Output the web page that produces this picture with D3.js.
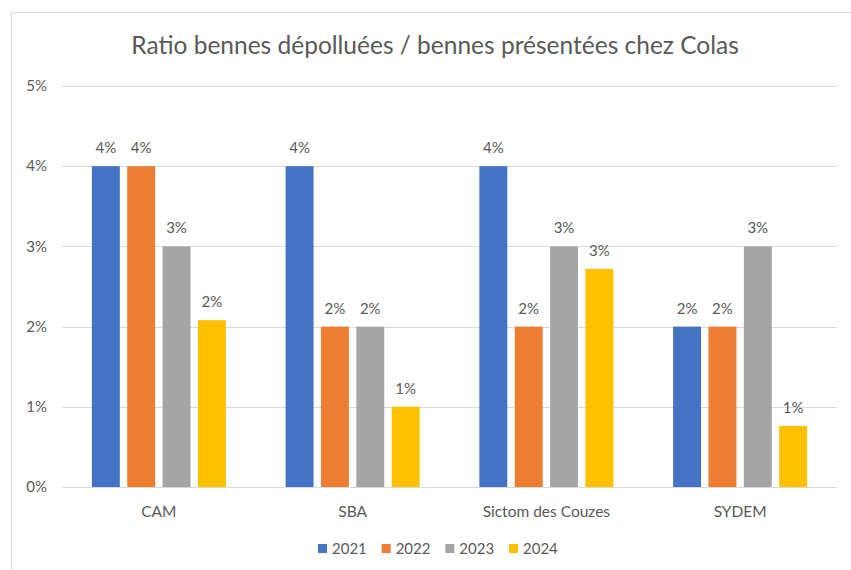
<!DOCTYPE html>
<html>
<head>
<meta charset="utf-8">
<script src="https://cdn.jsdelivr.net/npm/d3@7"></script>
<style>
  html, body { margin: 0; padding: 0; background: #fff; }
  svg { display: block; font-family: "Lato", "Open Sans", sans-serif; }
</style>
</head>
<body>
<svg id="chart" width="851" height="570"></svg>
<script>
const categories = ["CAM", "SBA", "Sictom des Couzes", "SYDEM"];
const seriesNames = ["2021", "2022", "2023", "2024"];
const values2021 = [0.04, 0.04, 0.04, 0.02];
const values2022 = [0.04, 0.02, 0.02, 0.02];
const values2023 = [0.03, 0.02, 0.03, 0.03];
const values2024 = [0.0208, 0.01, 0.0272, 0.0076];
const colors = ["#4472C4", "#ED7D31", "#A5A5A5", "#FFC000"];
const yTicks = [0, 0.01, 0.02, 0.03, 0.04, 0.05];
const chartTitle = "Ratio bennes dépolluées / bennes présentées chez Colas";

(function () {
const seriesValues = [values2021, values2022, values2023, values2024];
const svg = d3.select("#chart");
const textColor = "#595959";

// chart border
svg.append("rect").attr("x", 11.5).attr("y", 12.5).attr("width", 860).attr("height", 580)
  .attr("fill", "#fff").attr("stroke", "#D9D9D9").attr("stroke-width", 1);

const plotLeft = 62, plotRight = 837, plotTop = 86, plotBottom = 487;

const y = d3.scaleLinear().domain([0, 0.05]).range([plotBottom, plotTop]);
const x0 = d3.scaleBand().domain(categories).range([plotLeft, plotRight]).padding(0);
const groupW = 134;
const x1 = d3.scaleBand().domain(seriesNames).range([-groupW / 2, groupW / 2]).paddingInner(0.21).paddingOuter(0);

// gridlines
svg.append("g").selectAll("line").data(yTicks).join("line")
  .attr("x1", plotLeft).attr("x2", plotRight)
  .attr("y1", d => Math.round(y(d)) + 0.5).attr("y2", d => Math.round(y(d)) + 0.5)
  .attr("stroke", "#D9D9D9").attr("stroke-width", 1);

// y tick labels
svg.append("g").selectAll("text").data(yTicks).join("text")
  .attr("x", 47).attr("y", d => y(d)).attr("dy", "0.35em")
  .attr("text-anchor", "end").attr("fill", textColor).attr("font-size", 15)
  .text(d => d3.format(".0%")(d));

// bars
const data = [];
categories.forEach((c, i) => seriesNames.forEach((s, j) => data.push({ c, s, j, v: seriesValues[j][i] })));

const gBars = svg.append("g");
gBars.selectAll("rect").data(data).join("rect")
  .attr("x", d => x0(d.c) + x0.bandwidth() / 2 + x1(d.s))
  .attr("width", x1.bandwidth())
  .attr("y", d => y(d.v))
  .attr("height", d => y(0) - y(d.v))
  .attr("fill", d => colors[d.j]);

// data labels
gBars.selectAll("text").data(data).join("text")
  .attr("x", d => x0(d.c) + x0.bandwidth() / 2 + x1(d.s) + x1.bandwidth() / 2)
  .attr("y", d => y(d.v) - 13)
  .attr("text-anchor", "middle").attr("fill", textColor).attr("font-size", 15)
  .text(d => d3.format(".0%")(d.v));

// category labels
svg.append("g").selectAll("text").data(categories).join("text")
  .attr("x", d => x0(d) + x0.bandwidth() / 2).attr("y", 517)
  .attr("text-anchor", "middle").attr("fill", textColor).attr("font-size", 15.5)
  .text(d => d);

// title
svg.append("text").attr("x", 435).attr("y", 54)
  .attr("text-anchor", "middle").attr("fill", textColor).attr("font-size", 24.5)
  .text(chartTitle);

// legend
const legend = svg.append("g");
const legX = d3.scalePoint().domain(seriesNames).range([318, 509]);
const items = legend.selectAll("g").data(seriesNames).join("g")
  .attr("transform", d => `translate(${legX(d)},549)`);
items.append("rect").attr("x", 0).attr("y", -5).attr("width", 9).attr("height", 9)
  .attr("fill", (d, i) => colors[i]);
items.append("text").attr("x", 14).attr("y", 0).attr("dy", "0.35em")
  .attr("fill", textColor).attr("font-size", 15).text(d => d);
})();
</script>
</body>
</html>
